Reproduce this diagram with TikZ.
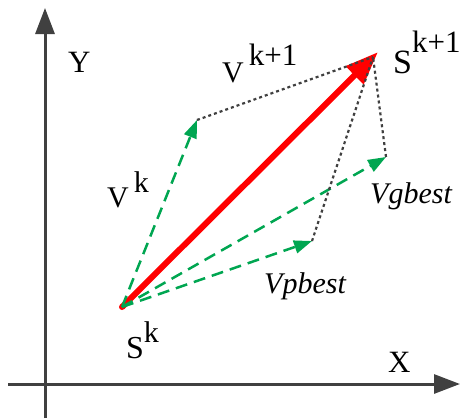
\documentclass[tikz,border=0pt]{standalone}
\usepackage{fontspec}
\setmainfont{Liberation Serif}
\usepackage{tikz}
\usetikzlibrary{arrows.meta}
\definecolor{ejeGris}{RGB}{64,64,64}
\definecolor{verdePSO}{RGB}{0,166,81}
\definecolor{rojoPSO}{RGB}{255,0,0}

\begin{document}
\begin{tikzpicture}[x=1pt, y=-1pt,
        axis/.style={draw=ejeGris, line width=3pt, -{Triangle[length=26pt,width=19pt]}},
        velo/.style={draw=verdePSO, line width=2.5pt, dash pattern=on 12pt off 7pt,
                     -{Triangle[length=18pt,width=13pt]}},
        move/.style={draw=rojoPSO, line width=6pt, shorten >=-7pt,
                     -{Triangle[length=33pt,width=24pt]}},
        aux/.style={draw=ejeGris, line width=2.2pt, dash pattern=on 3pt off 3pt},
        lbl/.style={anchor=base west, inner sep=0pt}
    ]
        \useasboundingbox (0,0) rectangle (462,418);
        % ejes
        \coordinate (yini) at (45,418);
        \coordinate (yfin) at (45,8);
        \coordinate (xini) at (8,384);
        \coordinate (xfin) at (460,384);
        \draw[axis] (yini) -- (yfin);
        \draw[axis] (xini) -- (xfin);
        % puntos
        \coordinate (sk) at (122,307);
        \coordinate (snew) at (373,57);
        \coordinate (vk) at (197,120);
        \coordinate (vp) at (312,241);
        \coordinate (vg) at (386,157);
        \draw[move] (sk) -- (snew);
        \fill[rojoPSO] (sk) circle (3pt);
        \draw[velo] (sk) -- (vk);
        \draw[velo] (sk) -- (vp);
        \draw[velo] (sk) -- (vg);
        \draw[aux] (vk) -- (snew);
        \draw[aux] (vp) -- (snew);
        \draw[aux] (vg) -- (snew);
        % etiquetas
        \node[lbl, font=\fontsize{31}{31}\selectfont] (ylab) at (68,72) {Y};
        \node[lbl, font=\fontsize{31}{31}\selectfont] (xlab) at (388,372) {X};
        \node[lbl, font=\fontsize{34}{34}\selectfont] (snlab) at (393,73)
            {S\raisebox{21pt}{\fontsize{31}{31}\selectfont k+1}};
        \node[lbl, font=\fontsize{30}{30}\selectfont] (vnlab) at (222,82)
            {V\hspace{5pt}\raisebox{17pt}{\fontsize{31}{31}\selectfont k+1}};
        \node[lbl, font=\fontsize{30}{30}\selectfont] (vklab) at (107,207)
            {V\hspace{5pt}\raisebox{15pt}{\fontsize{30}{30}\selectfont k}};
        \node[lbl, font=\fontsize{32}{32}\selectfont] (sklab) at (126,358)
            {S\raisebox{16pt}{\fontsize{30}{30}\selectfont k}};
        \node[lbl, font=\fontsize{30}{30}\selectfont\itshape] (vglab) at (370,203) {Vgbest};
        \node[lbl, font=\fontsize{30}{30}\selectfont\itshape] (vplab) at (264,293) {Vpbest};
    \end{tikzpicture}
\end{document}
